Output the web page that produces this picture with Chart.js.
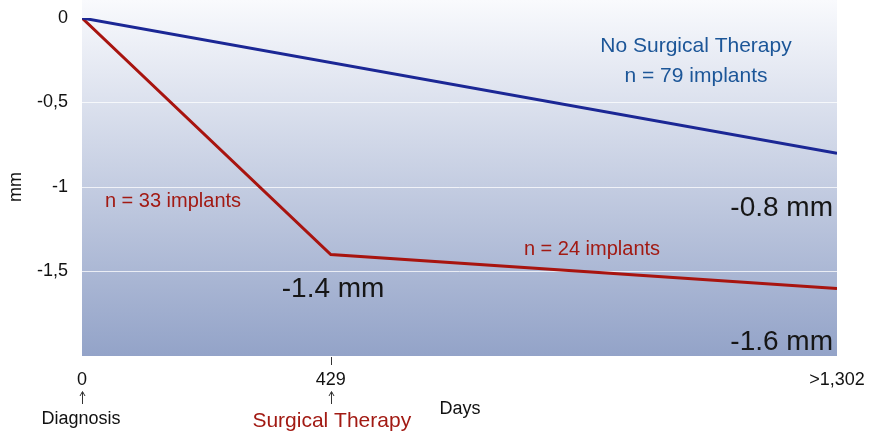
<!DOCTYPE html>
<html>
<head>
<meta charset="utf-8">
<script src="https://cdn.jsdelivr.net/npm/chart.js@4/dist/chart.umd.min.js"></script>
<style>
  html, body { margin: 0; padding: 0; background: #ffffff; }
  #wrap { width: 869px; height: 436px; }
</style>
</head>
<body>
<div id="wrap"><canvas id="chart" width="869" height="436"></canvas></div>
<script>
// Bone level change (mm) over follow-up time (days)
const noSurgeryDays = [0, 1302];
const noSurgeryValues = [0, -0.8];
const surgeryDays = [0, 429, 1302];
const surgeryValues = [0, -1.4, -1.6];

const xTickValues = [0, 429, 1302];
const xTickLabels = ['0', '429', '>1,302'];
const yTickValues = [0, -0.5, -1, -1.5];
const yTickLabels = ['0', '-0,5', '-1', '-1,5'];

const FONT = '"Liberation Sans", Arial, Helvetica, sans-serif';
const BLUE_LINE = '#1b2795';
const RED_LINE = '#a8140f';
const BLUE_TEXT = '#1c5698';
const RED_TEXT = '#a21a13';

function toPoints(xs, ys) {
  return xs.map((x, i) => ({ x: x, y: ys[i] }));
}

// Shaded plot background, from near white at the top to steel blue at the bottom
const backgroundPlugin = {
  id: 'plotBackground',
  beforeDraw(chart) {
    const { ctx, chartArea } = chart;
    const g = ctx.createLinearGradient(0, 0, 0, chartArea.bottom);
    g.addColorStop(0, '#f9fafd');
    g.addColorStop(1, '#93a3c8');
    ctx.save();
    ctx.fillStyle = g;
    ctx.fillRect(chartArea.left, 0, chartArea.right - chartArea.left, chartArea.bottom);
    ctx.restore();
  }
};

// Group labels, end values and the event markers under the time axis
const labelPlugin = {
  id: 'textLabels',
  afterDraw(chart) {
    const { ctx } = chart;
    const xs = chart.scales.x;
    const ys = chart.scales.y;
    const px = v => xs.getPixelForValue(v);
    const py = v => ys.getPixelForValue(v);

    ctx.save();
    ctx.textBaseline = 'alphabetic';

    // blue group
    ctx.fillStyle = BLUE_TEXT;
    ctx.font = '21px ' + FONT;
    ctx.textAlign = 'center';
    ctx.fillText('No Surgical Therapy', 696, 52);
    ctx.fillText('n = 79 implants', 696, 82);

    // red group
    ctx.fillStyle = RED_TEXT;
    ctx.font = '20px ' + FONT;
    ctx.fillText('n = 33 implants', 173, 207);
    ctx.fillText('n = 24 implants', 592, 255);

    // end values
    ctx.fillStyle = '#161616';
    ctx.font = '28px ' + FONT;
    ctx.textAlign = 'left';
    ctx.fillText('-1.4 mm', px(surgeryDays[1]) - 49, py(surgeryValues[1]) + 42);
    ctx.textAlign = 'right';
    ctx.fillText('-0.8 mm', xs.right - 4, py(noSurgeryValues[1]) + 63);
    ctx.fillText('-1.6 mm', xs.right - 4, py(surgeryValues[2]) + 62);

    // tick mark at the surgery day
    ctx.strokeStyle = '#333333';
    ctx.lineWidth = 1;
    ctx.beginPath();
    ctx.moveTo(Math.round(px(429)) + 0.5, ys.bottom + 1);
    ctx.lineTo(Math.round(px(429)) + 0.5, ys.bottom + 9);
    ctx.stroke();

    // small arrows under the time ticks
    [0, 429].forEach(d => {
      const x = Math.round(px(d)) + 0.5;
      ctx.beginPath();
      ctx.moveTo(x, 392);
      ctx.lineTo(x, 404);
      ctx.stroke();
      ctx.beginPath();
      ctx.moveTo(x - 2.5, 396);
      ctx.lineTo(x, 391.5);
      ctx.lineTo(x + 2.5, 396);
      ctx.stroke();
    });

    ctx.textAlign = 'center';
    ctx.fillStyle = '#111111';
    ctx.font = '18px ' + FONT;
    ctx.fillText('Diagnosis', px(0) - 1, 424);
    ctx.fillText('Days', 460, 414);

    ctx.fillStyle = RED_TEXT;
    ctx.font = '21px ' + FONT;
    ctx.fillText('Surgical Therapy', px(429) + 1, 427);

    ctx.restore();
  }
};

new Chart(document.getElementById('chart'), {
  type: 'line',
  data: {
    datasets: [
      {
        label: 'No Surgical Therapy',
        data: toPoints(noSurgeryDays, noSurgeryValues),
        borderColor: BLUE_LINE,
        borderWidth: 3,
        pointRadius: 0,
        tension: 0,
        fill: false
      },
      {
        label: 'Surgical Therapy',
        data: toPoints(surgeryDays, surgeryValues),
        borderColor: RED_LINE,
        borderWidth: 3,
        pointRadius: 0,
        tension: 0,
        fill: false
      }
    ]
  },
  options: {
    responsive: false,
    animation: false,
    devicePixelRatio: 1,
    layout: { padding: { left: 0, right: 32, top: 18, bottom: 0 } },
    plugins: {
      legend: { display: false },
      tooltip: { enabled: false }
    },
    scales: {
      x: {
        type: 'linear',
        min: 0,
        max: 1302,
        afterFit(scale) {
          scale.height = 80;
          scale.paddingLeft = 0;
          scale.paddingRight = 0;
        },
        afterBuildTicks(scale) { scale.ticks = xTickValues.map(v => ({ value: v })); },
        grid: { display: false },
        border: { display: false },
        ticks: {
          padding: 5,
          maxRotation: 0,
          autoSkip: false,
          color: '#111111',
          font: { family: FONT, size: 18 },
          callback: (v, i) => xTickLabels[i]
        }
      },
      y: {
        min: -2,
        max: 0,
        afterFit(scale) {
          scale.width = 82;
          scale.paddingTop = 0;
          scale.paddingBottom = 0;
        },
        afterBuildTicks(scale) { scale.ticks = yTickValues.map(v => ({ value: v })); },
        grid: {
          drawTicks: false,
          lineWidth: 1,
          color: ctx => (ctx.tick && ctx.tick.value === 0) ? 'rgba(0,0,0,0)' : 'rgba(255,255,255,0.75)'
        },
        border: { display: false },
        title: {
          display: true,
          text: 'mm',
          color: '#111111',
          font: { family: FONT, size: 18 },
          padding: { top: 5, bottom: 0 }
        },
        ticks: {
          padding: 14,
          autoSkip: false,
          color: '#111111',
          font: { family: FONT, size: 18 },
          callback: (v, i) => yTickLabels[i]
        }
      }
    }
  },
  plugins: [backgroundPlugin, labelPlugin]
});
</script>
</body>
</html>
